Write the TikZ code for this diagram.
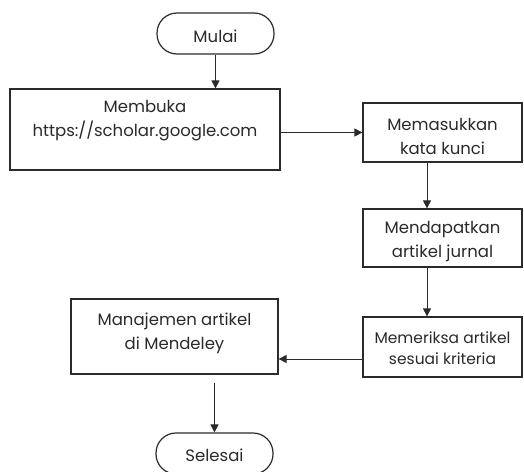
\documentclass[tikz,border=0pt]{standalone}
\usepackage{fontspec}
\setmainfont{Poppins}
\usetikzlibrary{arrows.meta,calc}
\definecolor{txtc}{HTML}{2A2A2A}
\definecolor{linec}{HTML}{2B2B2B}
\begin{document}
\begin{tikzpicture}[x=1pt,y=-1pt,
  box/.style={draw=linec,line width=1.2pt,rectangle,inner sep=0pt},
  term/.style={draw=linec,line width=1.2pt,rectangle,rounded corners=20pt,inner sep=0pt,minimum width=117pt,minimum height=41pt},
  txt/.style={text=txtc,align=center,font=\fontsize{16.5}{24}\selectfont},
  stxt/.style={text=txtc,align=center,font=\fontsize{15.5}{21}\selectfont},
  arr/.style={draw=linec,line width=0.8pt,-{Triangle[length=8pt,width=8pt]}}]
\useasboundingbox (0,0) rectangle (524,471);
\node[term] (start) at (215.5,33.5) {};
\node[txt] (tstart) at (215.5,36) {Mulai};
\node[box,minimum width=270pt,minimum height=81pt] (b1) at (145,129.5) {};
\node[txt] (t1) at (145,121) {Membuka\\https://scholar.google.com};
\node[box,minimum width=159pt,minimum height=59pt] (b2) at (442.5,132.5) {};
\node[txt] (t2) at (442.5,136) {Memasukkan\\kata kunci};
\node[box,minimum width=159pt,minimum height=58pt] (b3) at (442.5,238) {};
\node[txt] (t3) at (442.5,242) {Mendapatkan\\artikel jurnal};
\node[box,minimum width=159pt,minimum height=60pt] (b4) at (442.5,347) {};
\node[stxt] (t4) at (442.5,348) {Memeriksa artikel\\sesuai kriteria};
\node[box,minimum width=207pt,minimum height=75pt] (b5) at (174.5,336.5) {};
\node[txt] (t5) at (174.5,333) {Manajemen artikel\\di Mendeley};
\node[term] (end) at (214.5,453.5) {};
\node[txt] (tend) at (214.5,455) {Selesai};
\draw[arr] (start.south) -- (start.south |- b1.north);
\draw[arr] (b1.east |- b2.west) -- (b2.west);
\draw[arr] ([xshift=-15.5pt]b2.south) -- ([xshift=-15.5pt]b3.north);
\draw[arr] ([xshift=-15.5pt]b3.south) -- ([xshift=-15.5pt]b4.north);
\draw[arr] ([yshift=-12pt]b4.west) -- ([yshift=-12pt]b4.west -| b5.east);
\draw[arr] ($(b5.south -| end.north)+(0,-8pt)$) -- (end.north);
\end{tikzpicture}
\end{document}
